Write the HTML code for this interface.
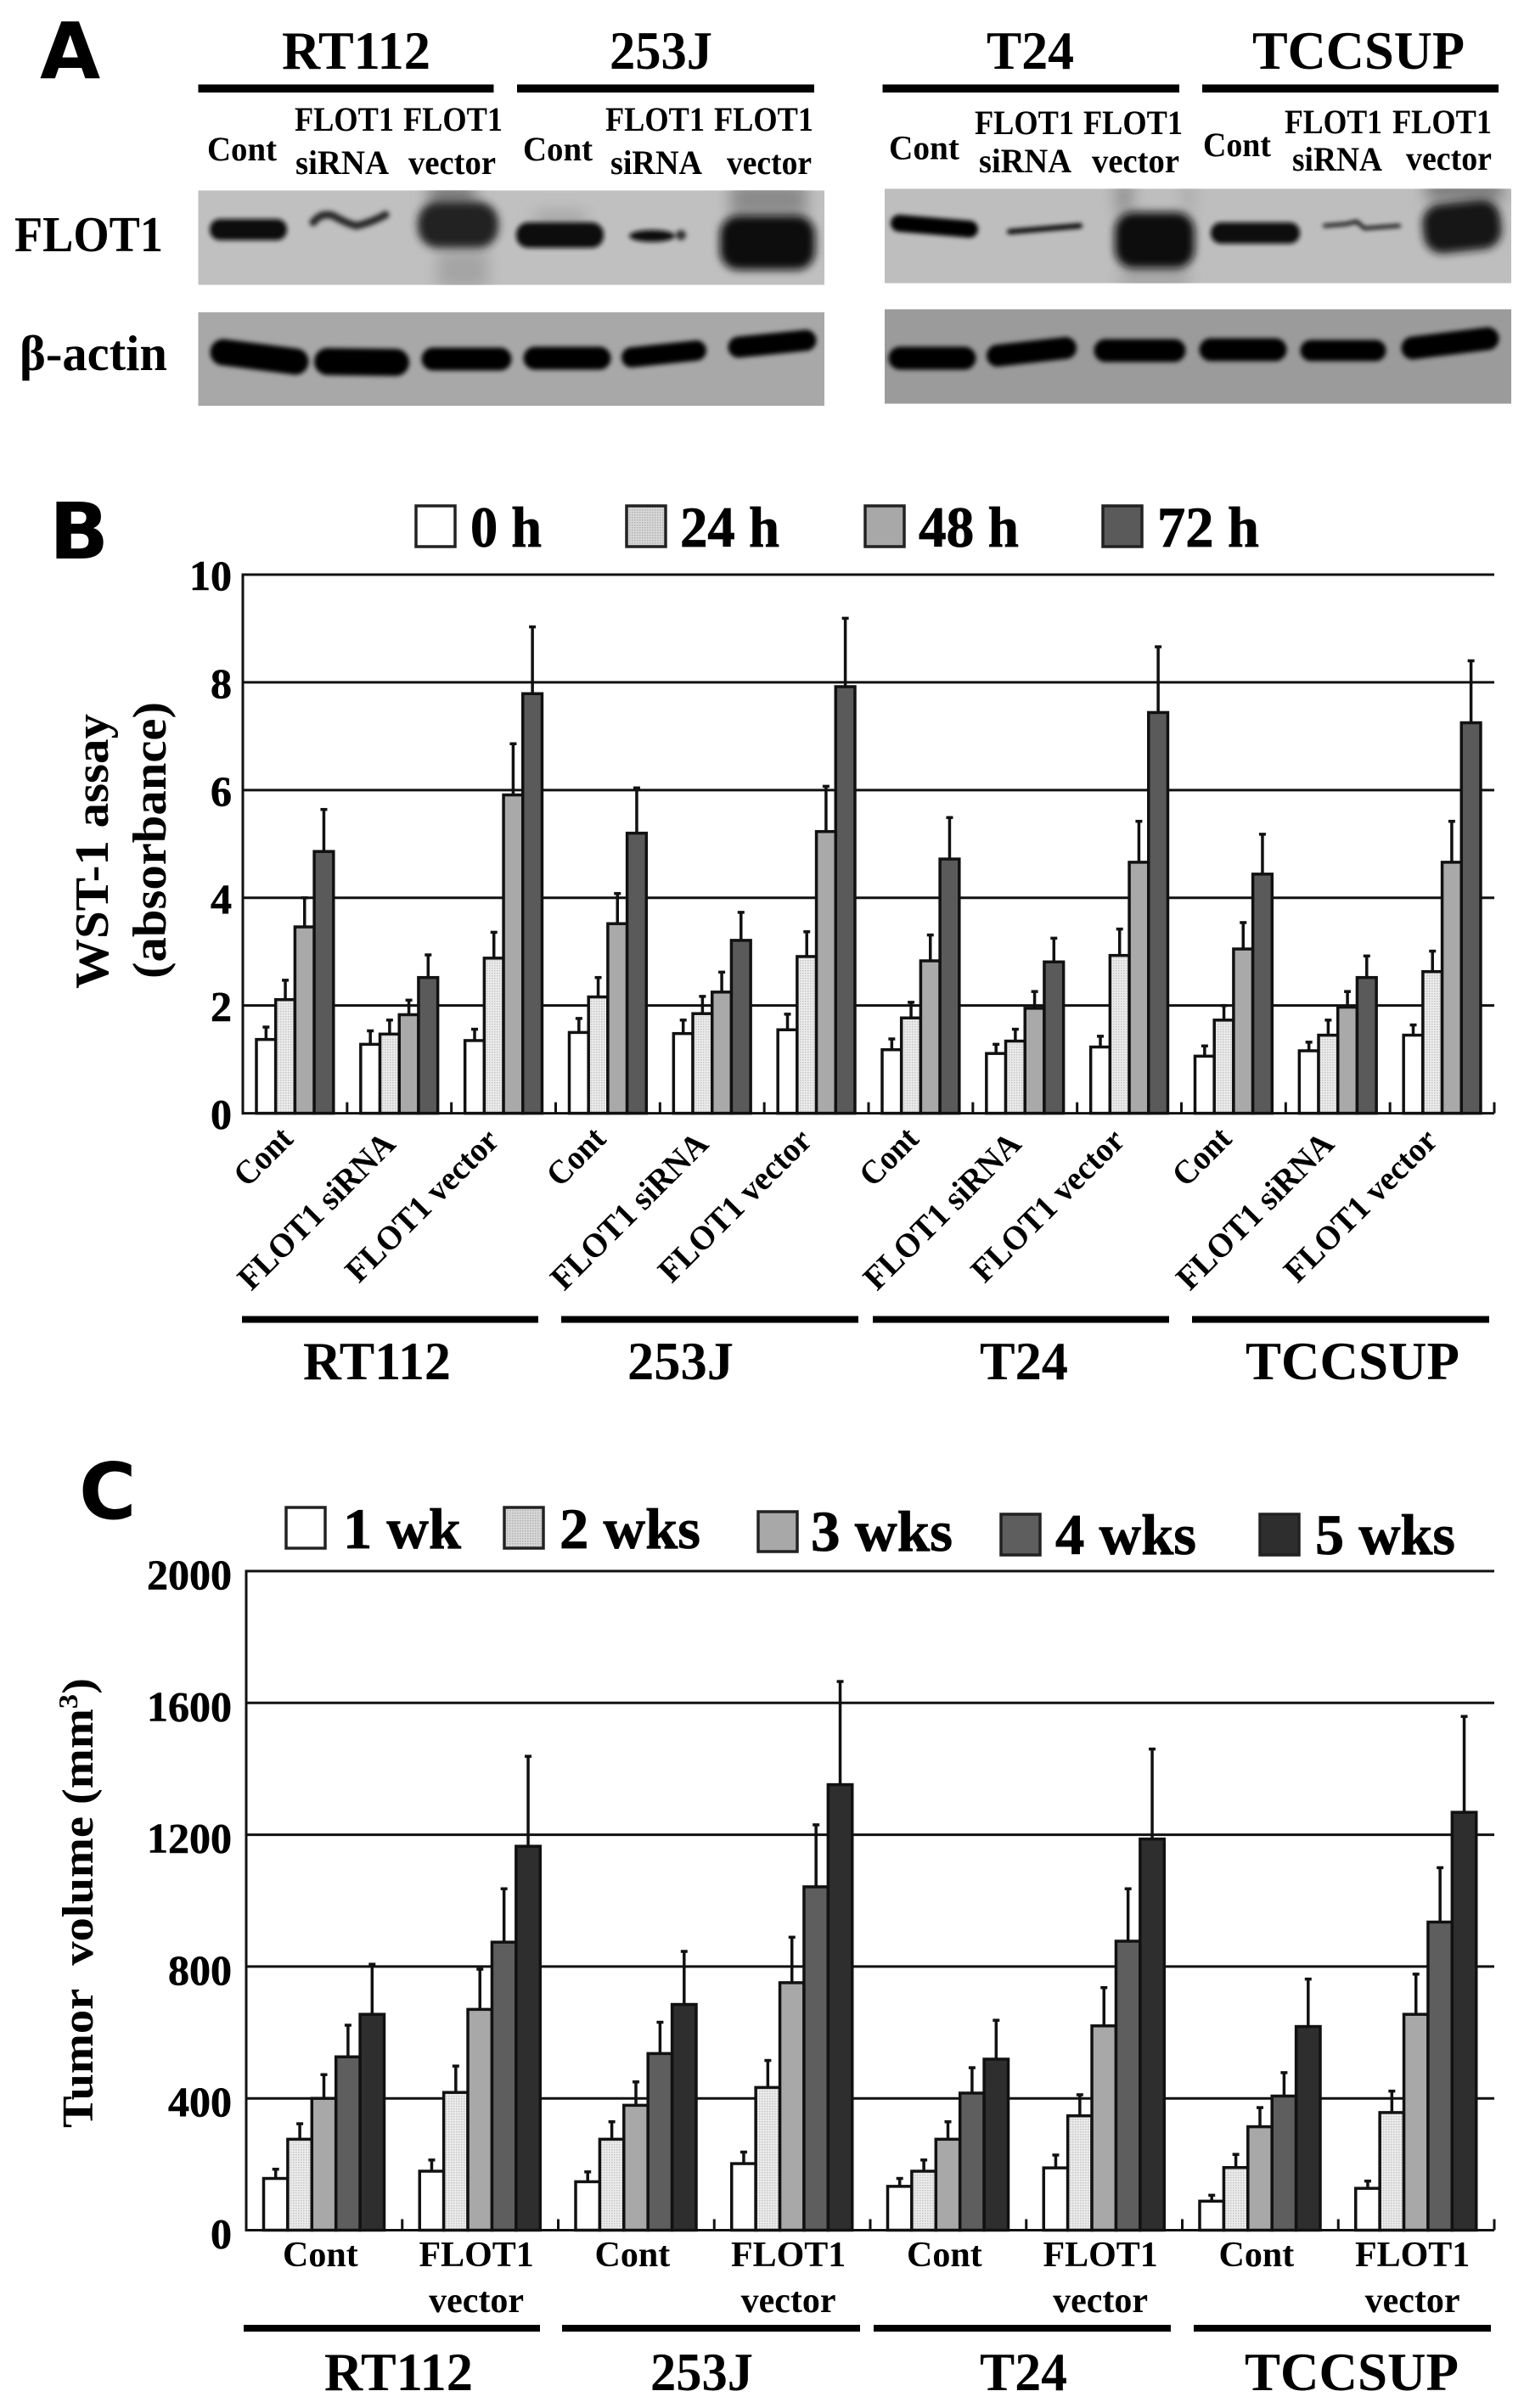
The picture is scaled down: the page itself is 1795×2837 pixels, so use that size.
<!DOCTYPE html>
<html lang="en">
<head>
<meta charset="utf-8">
<title>FLOT1 figure</title>
<style>
html,body{margin:0;padding:0;background:#fff;}
svg{display:block;}
text{font-family:"Liberation Serif",serif;font-weight:bold;fill:#000;}
.panel{font-family:"DejaVu Sans",sans-serif;font-size:92px;font-weight:bold;}
.big{font-size:64px;}
.small{font-size:40px;}
.leg{font-size:68px;stroke:#000;stroke-width:0.8px;}
.tick{font-size:50px;text-anchor:end;stroke:#000;stroke-width:0.6px;}
.bandline{fill:none;stroke:#050505;stroke-linecap:round;}
</style>
</head>
<body>
<svg id="fig" xmlns="http://www.w3.org/2000/svg" width="1795" height="2837" viewBox="0 0 1795 2837">
<defs>
<filter id="soft" filterUnits="userSpaceOnUse" x="0" y="200" width="1795" height="300"><feGaussianBlur stdDeviation="2.6"/></filter>
<filter id="softer" filterUnits="userSpaceOnUse" x="0" y="200" width="1795" height="300"><feGaussianBlur stdDeviation="5"/></filter>
<filter id="haze" filterUnits="userSpaceOnUse" x="0" y="200" width="1795" height="300"><feGaussianBlur stdDeviation="9"/></filter>
<clipPath id="clipFL"><rect x="233.5" y="224.3" width="737.5" height="111.4"/></clipPath>
<clipPath id="clipFR"><rect x="1042" y="222.3" width="738" height="111.4"/></clipPath>
<clipPath id="clipAL"><rect x="233.5" y="367.7" width="737.5" height="110.6"/></clipPath>
<clipPath id="clipAR"><rect x="1042" y="364.3" width="738" height="111.4"/></clipPath>
<pattern id="dots" width="3" height="3" patternUnits="userSpaceOnUse"><rect width="3" height="3" fill="#ececec"/><rect width="1.5" height="1.5" fill="#c4c4c4"/></pattern>
<pattern id="dotsDark" width="3" height="3" patternUnits="userSpaceOnUse"><rect width="3" height="3" fill="#d8d8d8"/><rect width="1.5" height="1.5" fill="#b0b0b0"/></pattern>
</defs>
<rect width="1795" height="2837" fill="#fff"/>

<!-- PANEL A -->
<g>
<text class="panel" x="47" y="92">A</text>
<text class="big" x="332" y="81" textLength="175" lengthAdjust="spacingAndGlyphs">RT112</text>
<text class="big" x="718" y="81" textLength="121" lengthAdjust="spacingAndGlyphs">253J</text>
<text class="big" x="1162" y="81" textLength="103" lengthAdjust="spacingAndGlyphs">T24</text>
<text class="big" x="1475" y="81" textLength="250" lengthAdjust="spacingAndGlyphs">TCCSUP</text>
<rect x="233.5" y="99.5" width="348" height="9.5"/>
<rect x="609" y="99.5" width="350" height="9.5"/>
<rect x="1039.5" y="99.5" width="349.5" height="9.5"/>
<rect x="1416" y="99.5" width="349" height="9.5"/>

<g>
<text class="small" x="244" y="189" textLength="82" lengthAdjust="spacingAndGlyphs">Cont</text>
<text class="small" x="347" y="154" textLength="117" lengthAdjust="spacingAndGlyphs">FLOT1</text>
<text class="small" x="348" y="205" textLength="110" lengthAdjust="spacingAndGlyphs">siRNA</text>
<text class="small" x="475" y="154" textLength="117" lengthAdjust="spacingAndGlyphs">FLOT1</text>
<text class="small" x="481" y="205" textLength="103" lengthAdjust="spacingAndGlyphs">vector</text>
<text class="small" x="616" y="189" textLength="82" lengthAdjust="spacingAndGlyphs">Cont</text>
<text class="small" x="713" y="154" textLength="117" lengthAdjust="spacingAndGlyphs">FLOT1</text>
<text class="small" x="719" y="205" textLength="108" lengthAdjust="spacingAndGlyphs">siRNA</text>
<text class="small" x="841" y="154" textLength="117" lengthAdjust="spacingAndGlyphs">FLOT1</text>
<text class="small" x="856" y="205" textLength="100" lengthAdjust="spacingAndGlyphs">vector</text>
<text class="small" x="1047" y="187.5" textLength="83" lengthAdjust="spacingAndGlyphs">Cont</text>
<text class="small" x="1148" y="158" textLength="117" lengthAdjust="spacingAndGlyphs">FLOT1</text>
<text class="small" x="1153" y="203" textLength="109" lengthAdjust="spacingAndGlyphs">siRNA</text>
<text class="small" x="1276" y="158" textLength="117" lengthAdjust="spacingAndGlyphs">FLOT1</text>
<text class="small" x="1286" y="203" textLength="103" lengthAdjust="spacingAndGlyphs">vector</text>
<text class="small" x="1417" y="184" textLength="80" lengthAdjust="spacingAndGlyphs">Cont</text>
<text class="small" x="1513" y="157" textLength="115" lengthAdjust="spacingAndGlyphs">FLOT1</text>
<text class="small" x="1522" y="201" textLength="106" lengthAdjust="spacingAndGlyphs">siRNA</text>
<text class="small" x="1640" y="157" textLength="117" lengthAdjust="spacingAndGlyphs">FLOT1</text>
<text class="small" x="1656" y="200" textLength="101" lengthAdjust="spacingAndGlyphs">vector</text>
</g>

<text x="17" y="296" font-size="59" textLength="175" lengthAdjust="spacingAndGlyphs">FLOT1</text>
<text x="23" y="436" font-size="59" textLength="174" lengthAdjust="spacingAndGlyphs">β-actin</text>

<g clip-path="url(#clipFL)">
<rect x="233.5" y="224.3" width="737.5" height="111.4" fill="#c0c0c0"/>
<g filter="url(#haze)">
<rect x="505" y="215" width="55" height="30" fill="#7c7c7c"/>
<rect x="515" y="295" width="60" height="45" fill="#a4a4a4"/>
<rect x="860" y="215" width="90" height="40" fill="#8a8a8a"/>
<rect x="630" y="250" width="60" height="16" fill="#a0a0a0"/>
</g>
<g filter="url(#soft)">
<rect x="247" y="258" width="91" height="25" rx="12" fill="#111"/>
<path d="M369,262 Q378,250 392,254 Q410,264 420,266 Q438,262 454,253" fill="none" stroke="#2c2c2c" stroke-width="9" stroke-linecap="round"/>
<rect x="608" y="262" width="103" height="30" rx="14" fill="#0a0a0a"/>
<ellipse cx="768" cy="278" rx="27" ry="7" fill="#111"/>
<circle cx="802" cy="277" r="6" fill="#333"/>
</g>
<g filter="url(#softer)">
<rect x="492" y="238" width="95" height="54" rx="24" fill="#242424"/>
<rect x="848" y="254" width="112" height="64" rx="22" fill="#111"/>
</g>
</g>
<g clip-path="url(#clipFR)">
<rect x="1042" y="222.3" width="738" height="111.4" fill="#bebebe"/>
<g filter="url(#haze)">
<rect x="1315" y="212" width="18" height="40" fill="#8e8e8e"/>
<rect x="1395" y="212" width="10" height="40" fill="#a4a4a4"/>
<rect x="1320" y="315" width="80" height="22" fill="#a2a2a2"/>
<rect x="1680" y="215" width="90" height="20" fill="#707070"/>
</g>
<g filter="url(#soft)">
<path d="M1059,263 L1142,270" class="bandline" stroke-width="20"/>
<path d="M1189,273 L1272,266" class="bandline" stroke-width="6"/>
<rect x="1426" y="262" width="105" height="25" rx="12" fill="#0a0a0a"/>
<path d="M1560,266 L1585,264 L1598,261 L1607,269 L1620,268 L1648,266" class="bandline" stroke-width="4"/>
</g>
<g filter="url(#softer)">
<rect x="1313" y="250" width="94" height="66" rx="22" fill="#0c0c0c"/>
<rect x="1676" y="238" width="92" height="58" rx="22" fill="#141414" transform="rotate(-6 1722 267)"/>
</g>
</g>
<g clip-path="url(#clipAL)">
<rect x="233.5" y="367.7" width="737.5" height="110.6" fill="#a8a8a8"/>
<g filter="url(#soft)">
<path d="M263,415 L348,426" class="bandline" stroke-width="31"/>
<path d="M386,426 L466,427" class="bandline" stroke-width="32"/>
<path d="M510,423 L589,423" class="bandline" stroke-width="27"/>
<path d="M630,422 L706,422" class="bandline" stroke-width="27"/>
<path d="M744,421 L820,413" class="bandline" stroke-width="24"/>
<path d="M870,409 L949,401" class="bandline" stroke-width="25"/>
</g>
</g>
<g clip-path="url(#clipAR)">
<rect x="1042" y="364.3" width="738" height="111.4" fill="#9b9b9b"/>
<g filter="url(#soft)">
<path d="M1060,422 L1136,422" class="bandline" stroke-width="27"/>
<path d="M1175,419 L1255,410" class="bandline" stroke-width="26"/>
<path d="M1302,413 L1383,413" class="bandline" stroke-width="27"/>
<path d="M1426,412 L1502,412" class="bandline" stroke-width="27"/>
<path d="M1544,413 L1620,413" class="bandline" stroke-width="25"/>
<path d="M1664,410 L1752,399" class="bandline" stroke-width="27"/>
</g>
</g>
</g>

<!-- PANEL B -->
<g>
<text class="panel" x="58" y="658">B</text>
<g>
<rect x="490" y="596" width="46" height="48" fill="#fff" stroke="#222" stroke-width="3.5"/>
<text class="leg" x="554" y="644" textLength="84" lengthAdjust="spacingAndGlyphs">0 h</text>
<rect x="738" y="596" width="46" height="48" fill="url(#dotsDark)" stroke="#222" stroke-width="3.5"/>
<text class="leg" x="801" y="644" textLength="117" lengthAdjust="spacingAndGlyphs">24 h</text>
<rect x="1019" y="596" width="46" height="48" fill="#a8a8a8" stroke="#222" stroke-width="3.5"/>
<text class="leg" x="1082" y="644" textLength="118" lengthAdjust="spacingAndGlyphs">48 h</text>
<rect x="1299" y="596" width="46" height="48" fill="#5a5a5a" stroke="#222" stroke-width="3.5"/>
<text class="leg" x="1363" y="644" textLength="120" lengthAdjust="spacingAndGlyphs">72 h</text>
</g>
<text transform="translate(127,1165) rotate(-90)" font-size="56" textLength="324" lengthAdjust="spacingAndGlyphs">WST-1 assay</text>
<text transform="translate(195,1153) rotate(-90)" font-size="56" textLength="326" lengthAdjust="spacingAndGlyphs">(absorbance)</text>
<g id="chartB"></g>
<rect x="285" y="1550.5" width="349" height="8"/>
<rect x="661" y="1550.5" width="350" height="8"/>
<rect x="1028" y="1550.5" width="349" height="8"/>
<rect x="1404" y="1550.5" width="350" height="8"/>
<text class="big" x="357" y="1625" textLength="174" lengthAdjust="spacingAndGlyphs">RT112</text>
<text class="big" x="739" y="1625" textLength="125" lengthAdjust="spacingAndGlyphs">253J</text>
<text class="big" x="1154" y="1625" textLength="104" lengthAdjust="spacingAndGlyphs">T24</text>
<text class="big" x="1467" y="1625" textLength="252" lengthAdjust="spacingAndGlyphs">TCCSUP</text>
</g>

<!-- PANEL C -->
<g>
<text class="panel" x="93" y="1789">C</text>
<g>
<rect x="337" y="1776" width="46" height="48" fill="#fff" stroke="#222" stroke-width="3.5"/>
<text class="leg" x="404" y="1824" textLength="139" lengthAdjust="spacingAndGlyphs">1 wk</text>
<rect x="594" y="1776" width="46" height="48" fill="url(#dotsDark)" stroke="#222" stroke-width="3.5"/>
<text class="leg" x="659" y="1824" textLength="166" lengthAdjust="spacingAndGlyphs">2 wks</text>
<rect x="893" y="1781" width="46" height="47" fill="#a8a8a8" stroke="#222" stroke-width="3.5"/>
<text class="leg" x="955" y="1827" textLength="167" lengthAdjust="spacingAndGlyphs">3 wks</text>
<rect x="1179" y="1784" width="46" height="48" fill="#5e5e5e" stroke="#222" stroke-width="3.5"/>
<text class="leg" x="1243" y="1831" textLength="166" lengthAdjust="spacingAndGlyphs">4 wks</text>
<rect x="1484" y="1784" width="46" height="48" fill="#2e2e2e" stroke="#222" stroke-width="3.5"/>
<text class="leg" x="1549" y="1831" textLength="165" lengthAdjust="spacingAndGlyphs">5 wks</text>
</g>
<text transform="translate(109,2507) rotate(-90)" font-size="52" textLength="530" lengthAdjust="spacingAndGlyphs" style="white-space:pre">Tumor  volume (mm<tspan font-size="32" dy="-18">3</tspan><tspan dy="18">)</tspan></text>
<g id="chartC"></g>
<rect x="287" y="2739" width="349" height="8"/>
<rect x="662" y="2739" width="351" height="8"/>
<rect x="1029" y="2739" width="350" height="8"/>
<rect x="1406" y="2739" width="350" height="8"/>
<text class="big" x="382" y="2816" textLength="175" lengthAdjust="spacingAndGlyphs">RT112</text>
<text class="big" x="766" y="2816" textLength="121" lengthAdjust="spacingAndGlyphs">253J</text>
<text class="big" x="1154" y="2816" textLength="103" lengthAdjust="spacingAndGlyphs">T24</text>
<text class="big" x="1466" y="2816" textLength="252" lengthAdjust="spacingAndGlyphs">TCCSUP</text>
</g>
</svg>

<script>
// Panel B data: WST-1 absorbance
const wstCategories = ["Cont","FLOT1 siRNA","FLOT1 vector","Cont","FLOT1 siRNA","FLOT1 vector","Cont","FLOT1 siRNA","FLOT1 vector","Cont","FLOT1 siRNA","FLOT1 vector"];
const wstTicks = [0,2,4,6,8,10];
const wstSeriesNames = ["0h","24h","48h","72h"];
const wst0h  = [1.37,1.28,1.35,1.50,1.48,1.55,1.18,1.11,1.23,1.06,1.16,1.45];
const wst24h = [2.11,1.47,2.88,2.16,1.85,2.91,1.77,1.34,2.93,1.73,1.45,2.63];
const wst48h = [3.46,1.83,5.91,3.52,2.25,5.23,2.83,1.95,4.66,3.05,1.97,4.66];
const wst72h = [4.86,2.52,7.79,5.20,3.21,7.92,4.72,2.81,7.44,4.44,2.52,7.25];
const wst0hErr  = [0.23,0.25,0.21,0.26,0.25,0.29,0.20,0.17,0.20,0.19,0.16,0.19];
const wst24hErr = [0.36,0.26,0.48,0.36,0.32,0.46,0.29,0.22,0.49,0.27,0.28,0.38];
const wst48hErr = [0.54,0.27,0.95,0.56,0.37,0.84,0.48,0.31,0.76,0.49,0.29,0.76];
const wst72hErr = [0.78,0.42,1.24,0.84,0.52,1.27,0.77,0.44,1.22,0.74,0.40,1.15];

// Panel C data: tumor volume (mm3)
const tumorCategories = ["Cont","FLOT1 vector","Cont","FLOT1 vector","Cont","FLOT1 vector","Cont","FLOT1 vector"];
const tumorTicks = [0,400,800,1200,1600,2000];
const tumorSeriesNames = ["1wk","2wks","3wks","4wks","5wks"];
const tumor1wk = [157,179,147,202,133,189,88,127];
const tumor2wk = [276,418,276,433,179,347,190,357];
const tumor3wk = [400,670,379,751,276,620,314,655];
const tumor4wk = [526,874,536,1042,416,877,407,935];
const tumor5wk = [655,1165,685,1352,519,1187,618,1268];
const tumor1wkErr = [28,34,30,35,24,39,18,22];
const tumor2wkErr = [47,80,53,82,34,64,40,65];
const tumor3wkErr = [72,122,71,138,53,116,58,122];
const tumor4wkErr = [96,162,95,188,77,159,71,165];
const tumor5wkErr = [152,273,161,313,118,273,144,291];

const NS = "http://www.w3.org/2000/svg";
function make(parent, tag, attrs, txt) {
  const el = document.createElementNS(NS, tag);
  for (const k in attrs) el.setAttribute(k, attrs[k]);
  if (txt !== undefined) el.textContent = txt;
  parent.appendChild(el);
  return el;
}

function drawChart(cfg) {
  const g = document.getElementById(cfg.id);
  const y = v => cfg.y0 - (v - 0) * (cfg.y0 - cfg.y1) / cfg.max;
  const x = i => cfg.x0 + i * (cfg.x1 - cfg.x0) / cfg.categories.length;
  const step = (cfg.x1 - cfg.x0) / cfg.categories.length;

  cfg.ticks.forEach(t => {
    if (t !== 0) {
      const gl = make(g, "line", {x1: cfg.x0, x2: cfg.x1, y1: y(t), y2: y(t), stroke: "#111", "stroke-width": 3});
      
      
    }
    const lab = make(g, "text", {class: "tick", x: 273, y: y(t) + cfg.tickDy}, String(t));
    
    
  });

  const yAxis = make(g, "line", {x1: cfg.x0, x2: cfg.x0, y1: y(cfg.max) - 1.5, y2: y(0) + 1.5, stroke: "#111", "stroke-width": 3});
  
  

  cfg.categories.forEach((c, i) => {
    const left = x(i) + cfg.pad;
    cfg.series.forEach((vals, s) => {
      const bx = left + s * cfg.bw;
      const cx = bx + cfg.bw / 2;
      const topV = vals[i] + cfg.errs[s][i];
      const eb = make(g, "line", {x1: cx, x2: cx, y1: y(vals[i]), y2: y(topV), stroke: "#111", "stroke-width": 3.5});
      
      
      const cap = make(g, "line", {x1: cx - 4, x2: cx + 4, y1: y(topV), y2: y(topV), stroke: "#111", "stroke-width": 3.5});
      
      
      const bar = make(g, "rect", {x: bx, y: y(vals[i]), width: cfg.bw, height: y(0) - y(vals[i]), fill: cfg.fills[s], stroke: "#111", "stroke-width": 3.5});
      
      
    });
  });

  const xAxis = make(g, "line", {x1: cfg.x0 - 1.5, x2: cfg.x1, y1: y(0), y2: y(0), stroke: "#111", "stroke-width": 3});
  
  
  for (let i = 1; i <= cfg.categories.length; i++) {
    const tk = make(g, "line", {x1: x(i), x2: x(i), y1: y(0), y2: y(0) - 13, stroke: "#111", "stroke-width": 3});
    
    
  }

  cfg.categories.forEach((c, i) => cfg.label(g, c, x(i), step));
}

drawChart({
  id: "chartB", x0: 286, x1: 1760, y0: 1311.6, y1: 677, max: 10, tickDy: 18,
  pad: 16, bw: 22.7, categories: wstCategories, ticks: wstTicks, names: wstSeriesNames,
  series: [wst0h, wst24h, wst48h, wst72h],
  errs: [wst0hErr, wst24hErr, wst48hErr, wst72hErr],
  fills: ["#fff", "url(#dots)", "#a9a9a9", "#5a5a5a"],
  label: function (g, c, cx) {
    const endX = cx + (c === "Cont" ? 61 : c === "FLOT1 siRNA" ? 59 : 58);
    const endY = c === "Cont" ? 1344 : c === "FLOT1 siRNA" ? 1350 : 1346;
    const len = c === "Cont" ? 79 : c === "FLOT1 siRNA" ? 243 : 236;
    const t = make(g, "text", {
      x: 0, y: 0, "font-size": 40, "text-anchor": "end",
      textLength: len, lengthAdjust: "spacingAndGlyphs",
      transform: "translate(" + endX + "," + endY + ") rotate(-45)"
    }, c);
    
    
  }
});

drawChart({
  id: "chartC", x0: 290, x1: 1760, y0: 2627.5, y1: 1851, max: 2000, tickDy: 21,
  pad: 20.5, bw: 28.4, categories: tumorCategories, ticks: tumorTicks, names: tumorSeriesNames,
  series: [tumor1wk, tumor2wk, tumor3wk, tumor4wk, tumor5wk],
  errs: [tumor1wkErr, tumor2wkErr, tumor3wkErr, tumor4wkErr, tumor5wkErr],
  fills: ["#fff", "url(#dots)", "#a8a8a8", "#5e5e5e", "#2e2e2e"],
  label: function (g, c, cx, step) {
    const mid = cx + step / 2 - 4.5;
    const parts = c.split(" ");
    const a = make(g, "text", {x: mid, y: 2670, "font-size": 42, "text-anchor": "middle"}, parts[0]);
    
    
    if (parts[1]) {
      const b = make(g, "text", {x: mid, y: 2724, "font-size": 42, "text-anchor": "middle"}, parts[1]);
      
      
    }
  }
});
</script>
</body>
</html>
